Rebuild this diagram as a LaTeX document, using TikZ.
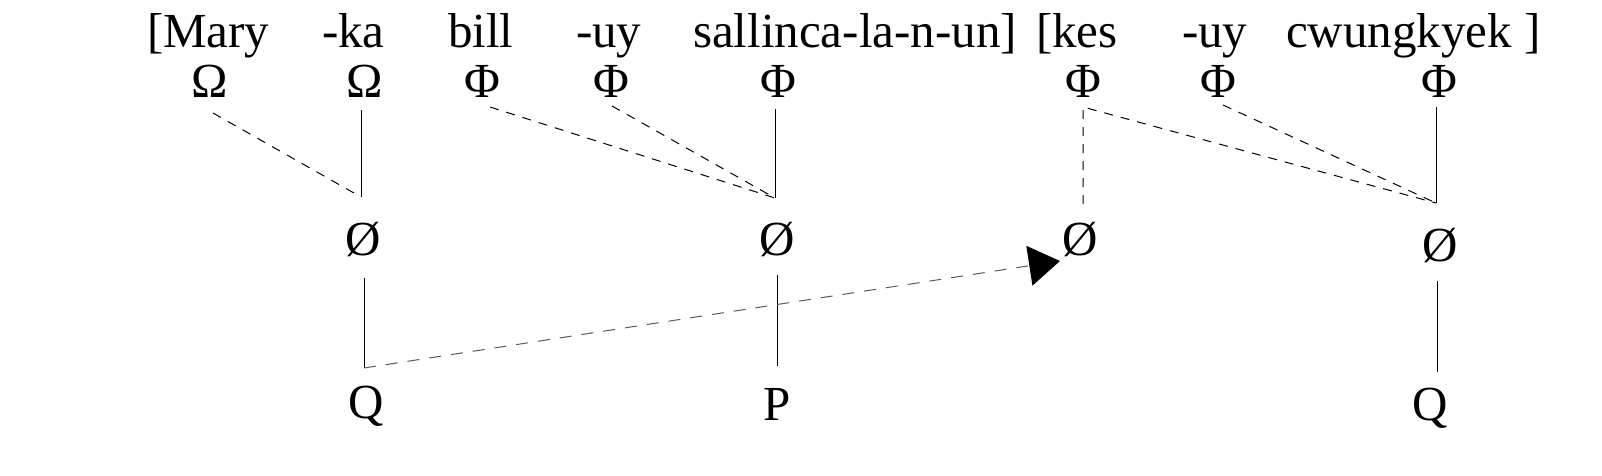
\documentclass[tikz,border=0pt]{standalone}
\usepackage{fontspec}
\setmainfont{Liberation Serif}
\usetikzlibrary{arrows.meta}
\begin{document}
\begin{tikzpicture}[x=1pt,y=-1pt,
  lbl/.style={inner sep=0pt,outer sep=0pt,anchor=base,font=\fontsize{49}{58}\selectfont},
  wrd/.style={lbl,anchor=base west},
  solidline/.style={line width=1pt,black},
  dashline/.style={line width=1pt,black,dash pattern=on 9pt off 8pt},
  movearrow/.style={line width=1pt,black!65,dash pattern=on 12pt off 10pt,
    -{Triangle[length=31pt,width=40pt,color=black,fill=black]}}]
\useasboundingbox (0,0) rectangle (1602,475);
% top line of words
\node[wrd] (w1) at (147,47) {[Mary};
\node[wrd] (w2) at (322,47) {-ka};
\node[wrd] (w3) at (448,47) {bill};
\node[wrd] (w4) at (576,47) {-uy};
\node[wrd] (w5) at (693,47) {sallinca-la-n-un]};
\node[wrd] (w6) at (1036,47) {[kes};
\node[wrd] (w7) at (1182,47) {-uy};
\node[wrd] (w8) at (1286,47) {cwungkyek ]};
% symbols
\node[lbl] (s1) at (210,97) {Ω};
\node[lbl] (s2) at (365,97) {Ω};
\node[lbl] (s3) at (482,97) {Φ};
\node[lbl] (s4) at (611,97) {Φ};
\node[lbl] (s5) at (778,97) {Φ};
\node[lbl] (s6) at (1083,97) {Φ};
\node[lbl] (s7) at (1218,97) {Φ};
\node[lbl] (s8) at (1439,97) {Φ};
% empty-set row
\node[lbl] (z1) at (363,255) {Ø};
\node[lbl] (z2) at (777,255) {Ø};
\node[lbl] (z3) at (1080,255) {Ø};
\node[lbl] (z4) at (1440,261) {Ø};
% bottom row
\node[lbl] (b1) at (366,418) {Q};
\node[lbl] (b2) at (777,420) {P};
\node[lbl] (b3) at (1430,420) {Q};
% junctions
\coordinate (j1) at (361,197);
\coordinate (j2) at (775,198);
\coordinate (j3) at (1083,204);
\coordinate (j4) at (1436,203);
\coordinate (a0) at ([xshift=-2pt,yshift=50pt]b1.base);
% upper connectors
\draw[dashline] ([xshift=3pt,yshift=-16pt]s1.base) -- (j1);
\draw[solidline] ([xshift=-4pt,yshift=-13pt]s2.base) -- (j1);
\draw[dashline] ([xshift=8pt,yshift=-10pt]s3.base) -- (j2);
\draw[dashline] ([xshift=1pt,yshift=-9pt]s4.base) -- (j2);
\draw[solidline] ([xshift=-3pt,yshift=-12pt]s5.base) -- (j2);
\draw[dashline] (j3) -- ([yshift=-10pt]s6.base) -- (j4);
\draw[dashline] ([xshift=5pt,yshift=-8pt]s7.base) -- (j4);
\draw[solidline] ([xshift=-3pt,yshift=-10pt]s8.base) -- (j4);
% lower connectors
\draw[solidline] ([xshift=1pt,yshift=-23pt]z1.base) -- (a0);
\draw[solidline] ([yshift=-20pt]z2.base) -- ([yshift=54pt]b2.base);
\draw[solidline] ([xshift=-3pt,yshift=-20pt]z4.base) -- ([xshift=7pt,yshift=48pt]b3.base);
\draw[movearrow] (a0) -- ([xshift=-20pt,yshift=-6pt]z3.base);
\end{tikzpicture}
\end{document}
